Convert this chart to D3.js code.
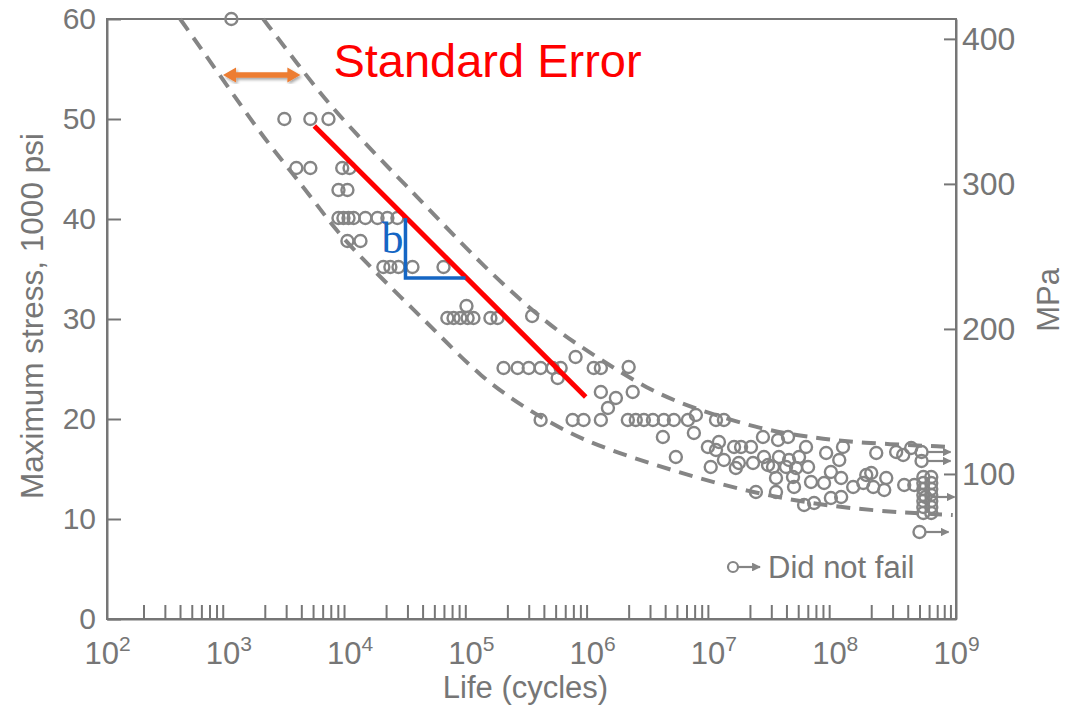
<!DOCTYPE html>
<html><head><meta charset="utf-8">
<script src="https://cdn.jsdelivr.net/npm/d3@7"></script>
<style>body{margin:0;background:#fff}svg{display:block}</style>
</head><body>
<svg id="c" width="1067" height="711"></svg>
<script>
// ---- data ----
const yTicks = [0,10,20,30,40,50,60];           // 1000 psi
const mpaTicks = [100,200,300,400];             // MPa
const decadeExps = [2,3,4,5,6,7,8,9];           // 10^n cycles
const minorMult = [2,3,4,5,6,7,8,9];
const xLabel = "Life (cycles)";
const yLabel = "Maximum stress, 1000 psi";
const y2Label = "MPa";
const legendLabel = "Did not fail";
const noteLabel = "Standard Error";
const slopeLabel = "b";

// failures: [cycles, stress (ksi)]
const failed = [
 [1060,60.0],
 [2900,50.0],[4750,50.0],[6700,50.0],
 [3640,45.1],[4750,45.1],[8700,45.1],[1.0e4,45.1],
 [8100,42.9],[9600,42.9],
 [8100,40.1],[8900,40.1],[9800,40.1],[1.08e4,40.1],[1.35e4,40.1],[1.70e4,40.1],[2.05e4,40.1],[2.48e4,40.1],
 [9600,37.8],[1.23e4,37.8],
 [1.90e4,35.2],[2.17e4,35.2],[2.53e4,35.2],[3.30e4,35.2],[5.95e4,35.2],
 [9.2e4,31.3],
 [6.4e4,30.1],[7.2e4,30.1],[8.2e4,30.1],[9.4e4,30.1],[1.05e5,30.1],[1.45e5,30.1],[1.66e5,30.1],[3.2e5,30.3],
 [1.86e5,25.1],[2.43e5,25.1],[3.0e5,25.1],[3.76e5,25.1],[4.73e5,25.1],[5.5e5,25.1],[5.2e5,24.1],
 [7.3e5,26.2],[1.03e6,25.1],[1.18e6,25.1],[2.0e6,25.2],
 [2.16e6,22.7],[1.18e6,22.7],[1.57e6,22.1],[1.35e6,21.1],
 [3.76e5,19.9],[6.9e5,19.9],[8.5e5,19.9],[1.18e6,19.9],[1.97e6,19.9],[2.29e6,19.9],[2.67e6,19.9],
 [3.17e6,19.9],[3.9e6,19.9],[4.72e6,19.9],[6.16e6,19.9],[7.17e6,20.4],[1.05e7,19.9],[1.22e7,19.9],
 [3.83e6,18.2],[6.9e6,18.6],[4.9e6,16.2],[9.0e6,17.2],[1.11e7,17.7],[1.05e7,16.9],[1.22e7,15.9],[9.5e6,15.2],
 [1.48e7,17.2],[1.69e7,17.2],[2.04e7,17.2],[1.62e7,15.6],[1.53e7,15.1],[2.12e7,15.6],[2.56e7,18.2],
 [2.61e7,16.2],[2.24e7,12.7],[2.82e7,15.4],
 [3.41e7,17.9],[4.12e7,18.2],[5.8e7,17.2],[1.17e8,17.2],[3.47e7,16.2],[4.2e7,15.9],[5.08e7,16.2],
 [8.5e7,16.6],[1.09e8,15.9],
 [3.1e7,15.2],[3.97e7,15.2],[4.8e7,15.1],[6.03e7,15.2],[9.3e7,14.7],
 [3.28e7,14.1],[4.53e7,14.2],[6.38e7,13.7],[8.17e7,13.6],[1.13e8,14.1],
 [3.28e7,12.7],[4.62e7,13.2],[5.59e7,11.4],[6.76e7,11.6],[9.3e7,12.1],[1.13e8,12.2],[1.42e8,13.2],
 [1.72e8,13.6],[2.0e8,14.6],
 [2.2e8,16.6],[3.21e8,16.7],[3.67e8,16.4],[4.27e8,17.1],
 [1.82e8,14.4],[2.66e8,14.1],[2.08e8,13.2],[2.56e8,12.9],[3.74e8,13.4],[4.53e8,13.4]
];
// run-outs (did not fail) with arrow
const runoutArrow = [[5.2e8,16.7],[5.2e8,15.8],[5.6e8,12.2],[5.0e8,8.7]];
// run-outs stacked (no arrow)
const runoutStack = [
 [5.38e8,14.2],[5.38e8,13.6],[5.38e8,13.0],[5.38e8,12.4],[5.38e8,11.8],[5.38e8,11.2],[5.38e8,10.6],
 [6.25e8,14.2],[6.25e8,13.6],[6.25e8,13.0],[6.25e8,12.4],[6.25e8,11.8],[6.25e8,11.2],[6.25e8,10.6]
];
// scatter band (dashed curves)
const upperBand = [[1942,60],[3778,55.4],[7347,50.9],[2.30e4,44.6],[3.84e4,41.9],[1.27e5,35.2],[4.55e5,29.2],
 [9.73e5,26.6],[2.88e6,22.9],[7.45e6,20.9],[2.61e7,18.9],[6.03e7,18.2],[1.56e8,17.6],[9.4e8,17.2]];
const lowerBand = [[401,60],[908,53.9],[1834,48.6],[3064,45.2],[5421,41.4],[7347,39.2],[1.23e4,36.2],
 [2.63e4,32.2],[5.31e4,28.6],[1.20e5,24.2],[2.94e5,20.9],[8.05e5,17.9],[2.88e6,15.6],[1.93e7,12.6],
 [1.37e8,10.9],[9.4e8,10.4]];
// annotations
const fitLine = [[5120,49.3],[8.85e5,22.2]];
const slopeTri = [[2.89e4,40.1],[2.89e4,34.1],[9.04e4,34.1]];
const stdErrArrow = [[905,54.4],[3930,54.4]];

// ---- drawing ----
const gray = "#767676", mark = "#858585";
const font = "'Liberation Sans', Arial, Helvetica, sans-serif";
const svg = d3.select("#c");
const x = d3.scaleLog().domain([1e2,1e9]).range([107,956]);
const y = d3.scaleLinear().domain([0,60]).range([619,19]);
const y2 = d3.scaleLinear().domain([0,60*6.895]).range([619,19]);

// frame
svg.append("rect").attr("x",x.range()[0]).attr("y",y.range()[1])
  .attr("width",x.range()[1]-x.range()[0]).attr("height",y.range()[0]-y.range()[1])
  .attr("fill","none").attr("stroke",gray).attr("stroke-width",2);

function styleAxis(g){
  g.select(".domain").attr("stroke",gray).attr("stroke-width",2);
  g.selectAll(".tick line").attr("stroke",gray).attr("stroke-width",2);
  g.selectAll(".tick text").attr("fill",gray).attr("font-family",font).attr("font-size",30);
}
// left axis
svg.append("g").attr("transform",`translate(${x.range()[0]},0)`)
  .call(d3.axisLeft(y).tickValues(yTicks).tickSizeInner(-14).tickSizeOuter(0).tickPadding(11).tickFormat(d3.format("d")))
  .call(styleAxis);
// right axis
svg.append("g").attr("transform",`translate(${x.range()[1]},0)`)
  .call(d3.axisRight(y2).tickValues(mpaTicks).tickSizeInner(-12).tickSizeOuter(0).tickPadding(6).tickFormat(d3.format("d")))
  .call(styleAxis)
  .selectAll(".tick text").attr("font-size",32);
// bottom minor ticks
const minorVals = [];
decadeExps.slice(0,-1).forEach(e=>minorMult.forEach(m=>minorVals.push(m*Math.pow(10,e))));
svg.append("g").attr("transform",`translate(0,${y.range()[0]})`)
  .call(d3.axisBottom(x).tickValues(minorVals).tickSizeInner(-14).tickSizeOuter(0).tickFormat(""))
  .call(styleAxis);
// decade labels
const gx = svg.append("g").attr("transform",`translate(0,${y.range()[0]})`)
  .call(d3.axisBottom(x).tickValues(decadeExps.map(e=>Math.pow(10,e))).tickSize(0).tickPadding(23).tickFormat(""))
  .call(styleAxis);
gx.select(".domain").remove();
gx.selectAll(".tick text").each(function(d){
  const t = d3.select(this).attr("dy","0.71em").attr("font-size",31);
  t.append("tspan").text("10");
  t.append("tspan").attr("font-size",21).attr("dy","-0.6em").text(Math.round(Math.log10(d)));
});

// axis titles
svg.append("text").attr("transform",`translate(43,316) rotate(-90)`)
  .attr("text-anchor","middle").attr("fill",gray).attr("font-family",font).attr("font-size",31.5).text(yLabel);
svg.append("text").attr("x",(x.range()[0]+x.range()[1])/2 - 6).attr("y",698)
  .attr("text-anchor","middle").attr("fill",gray).attr("font-family",font).attr("font-size",31).text(xLabel);
svg.append("text").attr("transform",`translate(1059,${y2(220)}) rotate(-90)`)
  .attr("text-anchor","middle").attr("fill",gray).attr("font-family",font).attr("font-size",31).text(y2Label);

// dashed band
const line = d3.line().x(d=>x(d[0])).y(d=>y(d[1])).curve(d3.curveBasis);
[upperBand, lowerBand].forEach(b=>{
  svg.append("path").attr("d",line(b)).attr("fill","none").attr("stroke",mark)
    .attr("stroke-width",4).attr("stroke-dasharray","14,9");
});

// scatter
svg.append("g").selectAll("circle").data(failed.concat(runoutStack, runoutArrow)).join("circle")
  .attr("cx",d=>x(d[0])).attr("cy",d=>y(d[1])).attr("r",6)
  .attr("fill","none").attr("stroke",mark).attr("stroke-width",2.4);
// run-out arrows
const defs = svg.append("defs");
defs.append("marker").attr("id","ah").attr("viewBox","0 0 10 10").attr("refX",9).attr("refY",5)
  .attr("markerWidth",4).attr("markerHeight",4).attr("orient","auto")
  .append("path").attr("d","M0,0L10,5L0,10z").attr("fill",mark);
svg.append("g").selectAll("line").data(runoutArrow).join("line")
  .attr("x1",d=>x(d[0])+6).attr("x2",d=>x(d[0])+29).attr("y1",d=>y(d[1])).attr("y2",d=>y(d[1]))
  .attr("stroke",mark).attr("stroke-width",2.2).attr("marker-end","url(#ah)");

// legend
const lx = 733, ly = 567;
svg.append("circle").attr("cx",lx).attr("cy",ly).attr("r",5).attr("fill","none").attr("stroke",mark).attr("stroke-width",2.2);
svg.append("line").attr("x1",lx+5).attr("x2",lx+27).attr("y1",ly).attr("y2",ly)
  .attr("stroke",mark).attr("stroke-width",2.2).attr("marker-end","url(#ah)");
svg.append("text").attr("x",lx+35).attr("y",ly+11).attr("fill",gray).attr("font-family",font)
  .attr("font-size",31).text(legendLabel);

// fit line
svg.append("line").attr("x1",x(fitLine[0][0])).attr("y1",y(fitLine[0][1]))
  .attr("x2",x(fitLine[1][0])).attr("y2",y(fitLine[1][1]))
  .attr("stroke","#ff0000").attr("stroke-width",5);
// slope triangle
svg.append("path").attr("d",d3.line().x(d=>x(d[0])).y(d=>y(d[1]))(slopeTri))
  .attr("fill","none").attr("stroke","#1566c4").attr("stroke-width",3.5);
svg.append("text").attr("x",x(slopeTri[0][0])-2).attr("y",y(slopeTri[0][1])+35)
  .attr("text-anchor","end").attr("fill","#1566c4")
  .attr("font-family","'Liberation Serif','DejaVu Serif','Times New Roman',serif").attr("font-size",44).text(slopeLabel);

// standard error arrow
const ax1 = x(stdErrArrow[0][0]), ax2 = x(stdErrArrow[1][0]), ay = y(stdErrArrow[0][1]);
const hw = 13, hh = 7.5, sw = 2.8;
defs.append("filter").attr("id","sh").append("feDropShadow")
  .attr("dx",1.5).attr("dy",2).attr("stdDeviation",1.5).attr("flood-color","#000").attr("flood-opacity",0.35);
svg.append("path").attr("filter","url(#sh)").attr("fill","#ed7d31")
  .attr("d",`M${ax1},${ay} L${ax1+hw},${ay-hh} L${ax1+hw},${ay-sw} L${ax2-hw},${ay-sw} L${ax2-hw},${ay-hh} L${ax2},${ay} L${ax2-hw},${ay+hh} L${ax2-hw},${ay+sw} L${ax1+hw},${ay+sw} L${ax1+hw},${ay+hh} Z`);
svg.append("text").attr("x",ax2+33).attr("y",77).attr("fill","#ff0000")
  .attr("font-family",font).attr("font-size",47).text(noteLabel);
</script>
</body></html>
